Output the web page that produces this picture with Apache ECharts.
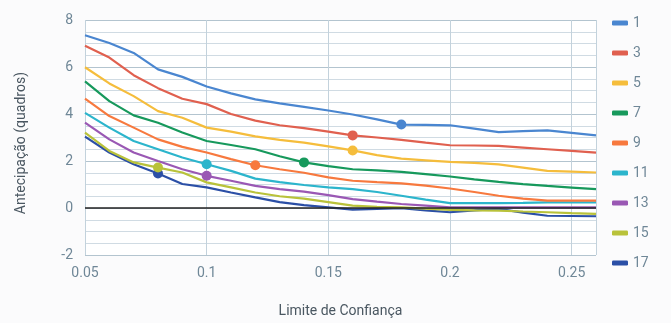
<!DOCTYPE html>
<html><head><meta charset="utf-8">
<script src="https://cdn.jsdelivr.net/npm/echarts@6/dist/echarts.min.js"></script>
<style>html,body{margin:0;padding:0;background:#fbfbfc}#c{width:671px;height:323px}</style>
</head><body><div id="c"></div>
<script>
const confidence = [0.05,0.06,0.07,0.08,0.09,0.10,0.11,0.12,0.13,0.14,0.15,0.16,0.17,0.18,0.19,0.20,0.21,0.22,0.23,0.24,0.25,0.26];
const seriesNames = ['1','3','5','7','9','11','13','15','17'];
const s1  = [7.35,7.02,6.6,5.9,5.58,5.17,4.88,4.62,4.45,4.3,4.15,3.98,3.77,3.55,3.54,3.52,3.38,3.23,3.27,3.3,3.2,3.09];
const s3  = [6.9,6.4,5.65,5.1,4.65,4.42,4.0,3.72,3.52,3.4,3.25,3.09,3.0,2.9,2.78,2.67,2.66,2.64,2.57,2.5,2.43,2.36];
const s5  = [5.99,5.3,4.76,4.12,3.84,3.42,3.25,3.05,2.9,2.78,2.62,2.45,2.25,2.1,2.03,1.96,1.92,1.86,1.72,1.58,1.55,1.51];
const s7  = [5.39,4.55,3.94,3.63,3.21,2.85,2.68,2.5,2.2,1.94,1.78,1.65,1.6,1.54,1.44,1.34,1.22,1.11,1.02,0.94,0.87,0.8];
const s9  = [4.65,3.91,3.42,2.92,2.6,2.36,2.08,1.82,1.65,1.5,1.3,1.16,1.1,1.05,0.95,0.83,0.68,0.52,0.4,0.31,0.31,0.31];
const s11 = [4.05,3.42,2.85,2.5,2.15,1.86,1.58,1.25,1.1,0.98,0.88,0.8,0.68,0.52,0.36,0.21,0.21,0.21,0.22,0.24,0.24,0.24];
const s13 = [3.63,2.92,2.36,2.0,1.65,1.37,1.16,0.94,0.8,0.7,0.55,0.38,0.27,0.17,0.1,0.03,0.03,0.03,0.03,0.03,0.03,0.03];
const s15 = [3.21,2.43,1.94,1.72,1.51,1.09,0.88,0.66,0.5,0.4,0.25,0.1,0.05,0.03,-0.03,-0.08,-0.1,-0.11,-0.15,-0.18,-0.22,-0.25];
const s17 = [3.04,2.36,1.86,1.47,1.02,0.88,0.66,0.45,0.25,0.12,0.03,-0.07,-0.04,-0.01,-0.1,-0.18,-0.1,-0.04,-0.2,-0.33,-0.34,-0.35];
const markedConfidence = [0.18,0.16,0.16,0.14,0.12,0.10,0.10,0.08,0.08];
const yTicks = [-2,0,2,4,6,8];
const xTicks = ['0.05','0.1','0.15','0.2','0.25'];

const allValues = [s1,s3,s5,s7,s9,s11,s13,s15,s17];
const colors = ['#4a86d0','#e0604f','#f5bd3c','#17995c','#f7793e','#2cb5cc','#9a58b4','#b9c23a','#2b4fa6'];
const labelColor = '#6f8797';

const series = allValues.map((vals, i) => ({
  name: seriesNames[i],
  type: 'line',
  color: colors[i],
  lineStyle: {width: 2.2},
  showSymbol: true,
  showAllSymbol: true,
  animation: false,
  z: 10 - i,
  data: confidence.map((x, j) => {
    const mark = Math.abs(x - markedConfidence[i]) < 1e-9;
    return {value: [x, vals[j]], symbol: mark ? 'circle' : 'none', symbolSize: mark ? 10 : 0};
  }),
  itemStyle: {color: colors[i]},
  markLine: i === 0 ? {
    silent: true, symbol: 'none', label: {show: false},
    lineStyle: {color: '#222', width: 1.5, type: 'solid'},
    data: [{yAxis: 0}]
  } : undefined
}));

const chart = echarts.init(document.getElementById('c'), null, {renderer: 'canvas'});
chart.setOption({
  backgroundColor: '#fbfbfc',
  animation: false,
  grid: {left: 85, right: 75, top: 20, bottom: 67, backgroundColor: '#ffffff', show: true, borderWidth: 0},
  graphic: [{
    type: 'text', left: 14, top: 72, rotation: Math.PI / 2,
    style: {text: 'Antecipação (quadros)', fill: '#4a5761', fontSize: 14, fontFamily: 'Roboto'}
  }],
  legend: {
    orient: 'vertical', left: 607, top: 11, itemGap: 16,
    icon: 'roundRect', itemWidth: 16, itemHeight: 5,
    textStyle: {color: labelColor, fontSize: 14, fontFamily: 'Roboto'},
    data: seriesNames
  },
  xAxis: {
    type: 'value', min: 0.05, max: 0.26, interval: 0.05,
    name: 'Limite de Confiança', nameLocation: 'middle', nameGap: 49,
    nameTextStyle: {color: '#4a5761', fontSize: 14, fontFamily: 'Roboto'},
    axisLine: {show: false}, axisTick: {show: false},
    axisLabel: {color: labelColor, fontSize: 14, fontFamily: 'Roboto', margin: 11,
      formatter: v => { const s = String(+v.toFixed(2)); return xTicks.indexOf(s) >= 0 ? s : ''; }},
    splitLine: {show: true, lineStyle: {color: '#c3d2dc', width: 1}}
  },
  yAxis: {
    type: 'value', min: -2, max: 8, interval: 0.5,
    axisLine: {show: false}, axisTick: {show: false},
    axisLabel: {color: labelColor, fontSize: 14, fontFamily: 'Roboto', margin: 12, showMinLabel: true, showMaxLabel: true,
      formatter: v => yTicks.indexOf(v) >= 0 ? String(v) : ''},
    splitLine: {show: true, lineStyle: {color: ['#b3c4cf', '#d0dbe3', '#d0dbe3', '#d0dbe3'], width: 1}}
  },
  series: series
});
</script></body></html>
